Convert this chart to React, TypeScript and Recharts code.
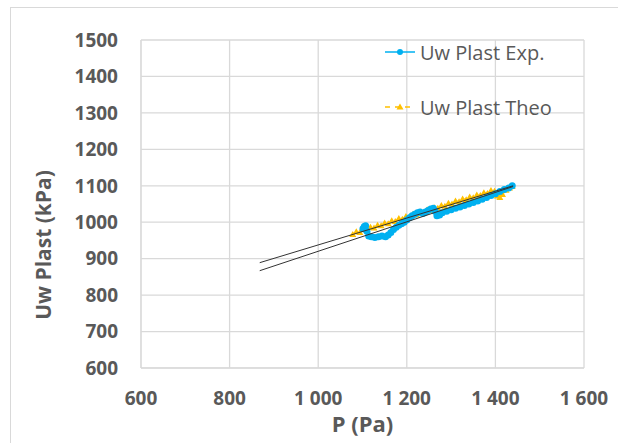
import React from "react";
import {
  ScatterChart,
  Scatter,
  XAxis,
  YAxis,
  CartesianGrid,
  Label,
} from "recharts";

// experimental series (P in Pa, Uw in kPa)
const expP = [
  1101, 1104, 1107, 1110, 1114, 1120, 1128, 1136, 1144, 1152, 1158, 1164, 1170,
  1176, 1182, 1188, 1194, 1200, 1206, 1212, 1218, 1224, 1230, 1236, 1242, 1248,
  1254, 1260, 1264, 1268, 1274, 1280, 1290, 1300, 1310, 1320, 1330, 1340, 1350,
  1360, 1370, 1380, 1390, 1400, 1410, 1420, 1430, 1438,
];
const expUw = [
  982, 988, 990, 975, 962, 960, 958, 960, 962, 960, 965, 972, 980, 986, 992,
  996, 1000, 1006, 1012, 1018, 1022, 1026, 1028, 1024, 1028, 1032, 1036, 1038,
  1030, 1018, 1020, 1026, 1030, 1034, 1038, 1042, 1046, 1050, 1054, 1058, 1063,
  1068, 1073, 1078, 1084, 1090, 1094, 1100,
];

// theoretical series
const theoP = [
  1078, 1086, 1094, 1102, 1110, 1118, 1126, 1134, 1142, 1150, 1158, 1166, 1174,
  1182, 1190, 1198, 1206, 1214, 1222, 1230, 1238, 1246, 1254, 1262, 1270, 1278,
  1286, 1294, 1302, 1310, 1318, 1326, 1334, 1342, 1350, 1358, 1366, 1374, 1382,
  1390, 1398, 1404, 1410, 1416, 1424, 1432, 1438,
];
const theoUw = [
  966, 974, 972, 980, 978, 986, 984, 992, 990, 998, 996, 1004, 1002, 1010, 1008,
  1016, 1014, 1022, 1020, 1028, 1026, 1034, 1032, 1040, 1038, 1046, 1044, 1052,
  1050, 1058, 1056, 1064, 1062, 1069, 1067, 1075, 1073, 1081, 1079, 1087, 1085,
  1072, 1068, 1076, 1088, 1094, 1098,
];

// trend lines (end points)
const trendExpP = [868, 1440];
const trendExpUw = [867, 1098];
const trendTheoP = [868, 1440];
const trendTheoUw = [889, 1100];

const xTicks = [600, 800, 1000, 1200, 1400, 1600];
const yTicks = [600, 700, 800, 900, 1000, 1100, 1200, 1300, 1400, 1500];

const zip = (xs: number[], ys: number[]) => xs.map((x, i) => ({ x, y: ys[i] }));

const expData = zip(expP, expUw);
const theoData = zip(theoP, theoUw);
const trendExp = zip(trendExpP, trendExpUw);
const trendTheo = zip(trendTheoP, trendTheoUw);

const BLUE = "#00B0F0";
const ORANGE = "#FFC000";
const TEXT = "#595959";
const GRID = "#d9d9d9";
const FONT = "'Open Sans', 'Liberation Sans', sans-serif";

const fmt = (v: number) => (v >= 1000 ? `${Math.floor(v / 1000)} ${String(v % 1000).padStart(3, "0")}` : `${v}`);

const Dot = (props: any) => <circle cx={props.cx} cy={props.cy} r={3.5} fill={BLUE} />;
const Tri = (props: any) => {
  const { cx, cy } = props;
  return <path d={`M${cx},${cy - 3.5}L${cx + 3.5},${cy + 2.5}L${cx - 3.5},${cy + 2.5}Z`} fill={ORANGE} />;
};
const NoDot = () => <g />;

export default function App() {
  return (
    <div style={{ position: "absolute", left: 0, top: 0, width: 618, height: 443, background: "#fff", overflow: "hidden" }}>
      <div style={{ position: "absolute", left: 10, top: 7, width: 620, height: 460, border: `1px solid ${GRID}` }} />
      <div style={{ position: "absolute", left: 0, top: 0 }}>
        <ScatterChart width={618} height={443} margin={{ top: 40, right: 34, bottom: 0, left: 0 }}>
          <CartesianGrid stroke={GRID} strokeWidth={1.3} />
          <XAxis
            type="number"
            dataKey="x"
            domain={[600, 1600]}
            ticks={xTicks}
            tickFormatter={fmt}
            height={75}
            tickSize={0}
            tickMargin={24}
            axisLine={{ stroke: GRID }}
            tick={{ fill: TEXT, fontSize: 19, fontWeight: 700, fontFamily: FONT }}
          >
            <Label
              value="P (Pa)"
              position="insideBottom"
              offset={11}
              style={{ fill: TEXT, fontSize: 22, fontWeight: 700, fontFamily: FONT }}
            />
          </XAxis>
          <YAxis
            type="number"
            dataKey="y"
            domain={[600, 1500]}
            ticks={yTicks}
            width={141}
            tickSize={0}
            tickMargin={23}
            axisLine={{ stroke: GRID }}
            tick={{ fill: TEXT, fontSize: 19, fontWeight: 700, fontFamily: FONT }}
          >
            <Label
              content={() => (
                <text
                  x={43}
                  y={245}
                  transform="rotate(-90 43 245)"
                  textAnchor="middle"
                  dominantBaseline="central"
                  fill={TEXT}
                  fontSize={21}
                  fontWeight={700}
                  fontFamily={FONT}
                >
                  Uw Plast (kPa)
                </text>
              )}
            />
          </YAxis>
          <Scatter
            data={theoData}
            line={{ stroke: ORANGE, strokeWidth: 1.5, strokeDasharray: "5 3" }}
            shape={Tri}
            isAnimationActive={false}
          />
          <Scatter data={expData} line={{ stroke: BLUE, strokeWidth: 1.5 }} shape={Dot} isAnimationActive={false} />
          <Scatter data={trendTheo} line={{ stroke: "#333", strokeWidth: 1 }} shape={NoDot} isAnimationActive={false} />
          <Scatter data={trendExp} line={{ stroke: "#333", strokeWidth: 1 }} shape={NoDot} isAnimationActive={false} />
        </ScatterChart>
      </div>
      <svg style={{ position: "absolute", left: 0, top: 0 }} width={618} height={443}>
        <line x1={385} y1={52} x2={415} y2={52} stroke={BLUE} strokeWidth={1.5} />
        <circle cx={400} cy={52} r={3} fill={BLUE} />
        <text x={420} y={52} dominantBaseline="central" fill={TEXT} fontSize={20} fontFamily={FONT}>
          Uw Plast Exp.
        </text>
        <line x1={385} y1={107} x2={415} y2={107} stroke={ORANGE} strokeWidth={1.5} strokeDasharray="5 5" />
        <path d="M400,103.5L403.5,109.5L396.5,109.5Z" fill={ORANGE} />
        <text x={420} y={107} dominantBaseline="central" fill={TEXT} fontSize={20} fontFamily={FONT}>
          Uw Plast Theo
        </text>
      </svg>
    </div>
  );
}
